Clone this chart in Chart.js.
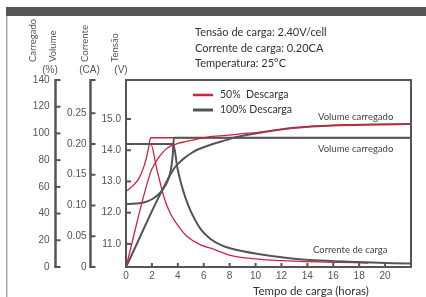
<!DOCTYPE html>
<html>
<head>
<meta charset="utf-8">
<script src="https://cdn.jsdelivr.net/npm/chart.js@4.4.1/dist/chart.umd.min.js"></script>
<style>
html, body { margin: 0; padding: 0; background: #fff; }
#wrap { position: relative; width: 426px; height: 297px; }
</style>
</head>
<body>
<div id="wrap"><canvas id="chart" width="426" height="297"></canvas></div>
<script>
// Ticks dos eixos
const xTicks = [0, 2, 4, 6, 8, 10, 12, 14, 16, 18, 20];
const voltTicks = [11, 12, 13, 14, 15];
const currTicks = [0, 0.05, 0.10, 0.15, 0.20, 0.25];
const volTicks = [0, 20, 40, 60, 80, 100, 120, 140];

// 50% descarga (vermelho)
const red50VoltT = [0, 0.5, 1.0, 1.4, 1.6, 1.75, 1.9, 22];
const red50VoltV = [12.68, 12.85, 13.1, 13.5, 13.8, 14.1, 14.4, 14.4];
const red50CurrT = [0, 1.9, 2.4, 3.0, 3.43, 4.2, 4.7, 5.75, 6.75, 8.05, 10.4, 13, 15.4, 18.7];
const red50CurrV = [0.2, 0.2, 0.157, 0.109, 0.087, 0.062, 0.05, 0.036, 0.029, 0.019, 0.0125, 0.0095, 0.008, 0.0065];
const red50VolT = [0, 1.9, 2.2, 2.6, 3.0, 3.43, 4.0, 4.66, 5.5, 6.3, 7.7, 9, 10.4, 12, 13.5, 16, 19, 22];
const red50VolV = [0, 71, 77, 83, 87.5, 90.5, 92.5, 94, 95.8, 97.3, 98.5, 99.8, 101, 103, 104.6, 106, 106.6, 107];

// 100% descarga (cinza)
const gray100VoltT = [0, 0.5, 1, 1.5, 2, 2.5, 2.9, 3.2, 3.45, 3.6, 3.7, 22];
const gray100VoltV = [12.28, 12.285, 12.3, 12.34, 12.43, 12.58, 12.78, 13.0, 13.35, 13.8, 14.4, 14.4];
const gray100CurrT = [0, 3.65, 3.95, 4.2, 4.6, 4.97, 5.75, 6.5, 7.3, 8.1, 10.2, 12.8, 15, 17.9, 22];
const gray100CurrV = [0.2, 0.2, 0.163, 0.14, 0.112, 0.092, 0.062, 0.046, 0.036, 0.03, 0.021, 0.0137, 0.0105, 0.008, 0.0055];
const gray100VolT = [0, 3.66, 4.0, 4.5, 5, 5.5, 6.1, 7, 7.7, 8.3, 9, 10, 11.5, 13, 16, 19, 22];
const gray100VolV = [0, 73, 77, 81.5, 85, 87.8, 90, 93, 95, 96.8, 98.2, 100, 102.3, 104.2, 106, 106.6, 107];

const RED = "#d4213d";
const GRAY = "#555555";

function pts(ts, vs) {
	return ts.map((t, i) => ({ x: t, y: vs[i] }));
}

function serie(ts, vs, axis, color, width, order) {
	return {
		data: pts(ts, vs),
		yAxisID: axis,
		borderColor: color,
		borderWidth: width,
		pointRadius: 0,
		fill: false,
		cubicInterpolationMode: "monotone",
		order: order,
	};
}

// Desenha eixos, textos e moldura
const frame = {
	id: "frame",
	afterDraw(chart) {
		const { ctx, chartArea: a, scales } = chart;
		const sx = scales.x, sv = scales.yV, sc = scales.yC, sp = scales.yP;
		ctx.save();

		// moldura da página
		ctx.fillStyle = "#555";
		ctx.fillRect(6, 7, 420, 9);
		ctx.fillStyle = "#aaa";
		ctx.fillRect(6, 16, 1.5, 281);

		// caixa do gráfico
		ctx.strokeStyle = "#555";
		ctx.lineWidth = 2;
		ctx.strokeRect(a.left, a.top, a.right - a.left, a.bottom - a.top);

		ctx.font = "10px 'Liberation Sans'";
		ctx.fillStyle = "#555";

		// eixo volume (%)
		const xp = 55.5, xc = 90.5;
		ctx.lineWidth = 2.5;
		ctx.beginPath();
		ctx.moveTo(xp, a.top - 1); ctx.lineTo(xp, a.bottom + 1);
		ctx.moveTo(xc, a.top - 1); ctx.lineTo(xc, a.bottom + 1);
		ctx.stroke();
		ctx.lineWidth = 2;
		ctx.textAlign = "right";
		ctx.textBaseline = "middle";
		volTicks.forEach((v) => {
			const y = sp.getPixelForValue(v);
			ctx.beginPath(); ctx.moveTo(xp, y); ctx.lineTo(xp + 5, y); ctx.stroke();
			ctx.fillText(String(v), xp - 6, y);
		});
		// eixo corrente (CA)
		currTicks.forEach((v) => {
			const y = sc.getPixelForValue(v);
			ctx.beginPath(); ctx.moveTo(xc, y); ctx.lineTo(xc + 5, y); ctx.stroke();
			ctx.fillText(v === 0 ? "0" : v.toFixed(2), xc - 4, y);
		});
		ctx.beginPath(); ctx.moveTo(xc, a.top); ctx.lineTo(xc + 5, a.top); ctx.stroke();
		// eixo tensão (V)
		voltTicks.forEach((v) => {
			const y = sv.getPixelForValue(v);
			ctx.beginPath(); ctx.moveTo(a.left, y); ctx.lineTo(a.left + 5, y); ctx.stroke();
			ctx.fillText(v.toFixed(1), a.left - 5, y);
		});
		// eixo tempo
		ctx.textAlign = "center";
		xTicks.forEach((v) => {
			const x = sx.getPixelForValue(v);
			ctx.beginPath(); ctx.moveTo(x, a.bottom); ctx.lineTo(x, a.bottom - 4); ctx.stroke();
			ctx.fillText(String(v), x, a.bottom + 9);
		});

		// unidades
		ctx.fillText("(%)", 50, 70);
		ctx.fillText("(CA)", 89.5, 70);
		ctx.fillText("(V)", 121, 70);

		// títulos verticais
		ctx.font = "9.5px Lato";
		ctx.textAlign = "left";
		[["Carregado", 33], ["Volume", 53], ["Corrente", 84.5], ["Tensão", 114.5]].forEach(([t, x]) => {
			ctx.save();
			ctx.translate(x, 62);
			ctx.rotate(-Math.PI / 2);
			ctx.fillText(t, 0, 0);
			ctx.restore();
		});

		// informações
		ctx.fillStyle = "#333";
		ctx.font = "11px Lato";
		ctx.fillText("Tensão de carga: 2.40V/cell", 195, 32);
		ctx.fillText("Corrente de carga: 0.20CA", 195, 48);
		ctx.fillText("Temperatura: 25°C", 195, 63.5);

		// legenda
		ctx.font = "10.5px Lato";
		ctx.lineWidth = 2.5;
		ctx.strokeStyle = RED;
		ctx.beginPath(); ctx.moveTo(193, 95); ctx.lineTo(213, 95); ctx.stroke();
		ctx.strokeStyle = GRAY;
		ctx.lineWidth = 3;
		ctx.beginPath(); ctx.moveTo(193, 110); ctx.lineTo(213, 110); ctx.stroke();
		ctx.fillText("50%  Descarga", 220, 95);
		ctx.fillText("100% Descarga", 220, 109.5);

		// anotações
		ctx.fillStyle = "#444";
		ctx.font = "9.5px Lato";
		ctx.fillText("Volume carregado", 318, 116.5);
		ctx.fillText("Volume carregado", 318, 148.5);
		ctx.fillText("Corrente de carga", 313, 250);

		// título eixo x
		ctx.fillStyle = "#333";
		ctx.font = "11.5px Lato";
		ctx.textAlign = "center";
		ctx.fillText("Tempo de carga (horas)", 311, 291.5);
		ctx.restore();
	},
};

new Chart(document.getElementById("chart"), {
	type: "line",
	data: {
		datasets: [
			serie(red50VolT, red50VolV, "yP", RED, 1.3, 0),
			serie(gray100VoltT, gray100VoltV, "yV", GRAY, 2, 1),
			serie(gray100CurrT, gray100CurrV, "yC", GRAY, 2, 1),
			serie(gray100VolT, gray100VolV, "yP", GRAY, 2, 2),
			serie(red50VoltT, red50VoltV, "yV", RED, 1.3, 3),
			serie(red50CurrT, red50CurrV, "yC", RED, 1.3, 3),
		],
	},
	options: {
		responsive: false,
		animation: false,
		events: [],
		layout: { padding: { left: 126, top: 80, right: 15, bottom: 30 } },
		scales: {
			x: { type: "linear", min: 0, max: 22, display: false },
			yV: { type: "linear", min: 10.26, max: 16.25, display: false },
			yC: { type: "linear", min: 0, max: 0.304, display: false },
			yP: { type: "linear", min: 0, max: 140, display: false },
		},
		plugins: { legend: { display: false }, tooltip: { enabled: false } },
	},
	plugins: [frame],
});
</script>
</body>
</html>
